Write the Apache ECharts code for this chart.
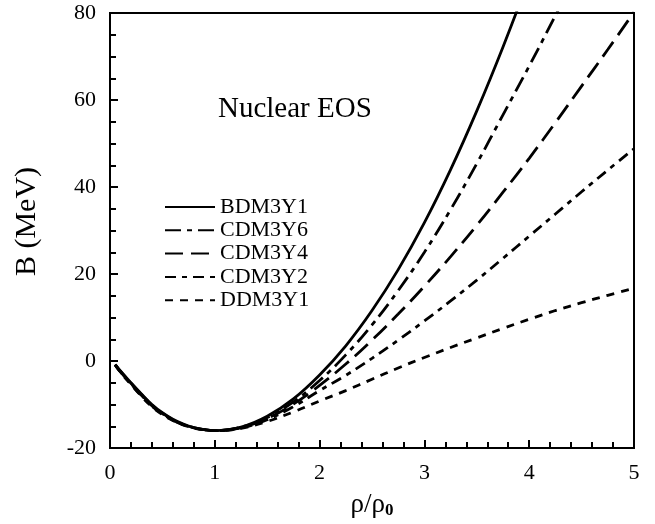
<!DOCTYPE html>
<html>
<head>
<meta charset="utf-8">
<script src="https://cdn.jsdelivr.net/npm/echarts@6/dist/echarts.min.js"></script>
<style>html,body{margin:0;padding:0;background:#fff}#c{width:655px;height:524px}</style>
</head>
<body>
<div id="c"></div>
<script>
const rho = [0.05,0.1,0.2,0.3,0.4,0.5,0.6,0.7,0.8,0.9,1.0,1.25,1.5,1.75,2.0,2.25,2.5,2.75,3.0,3.25,3.5,3.75,4.0,4.25,4.5,4.75,5.0];
const BDM3Y1 = [-0.8,-2.3,-5.0,-7.6,-10.0,-11.9,-13.4,-14.5,-15.3,-15.8,-16.0,-15.2,-12.7,-8.7,-3.2,3.5,11.6,21.0,31.8,44.0,57.5,72.2,88.0,null,null,null,null];
const CDM3Y6 = [-0.8,-2.4,-5.1,-7.7,-10.1,-12.0,-13.5,-14.6,-15.3,-15.8,-16.0,-15.2,-13.0,-9.4,-4.5,1.4,8.3,16.2,25.0,34.8,45.4,56.6,67.8,79.4,91.0,null,null];
const CDM3Y4 = [-0.9,-2.5,-5.2,-7.9,-10.3,-12.1,-13.6,-14.6,-15.4,-15.8,-16.0,-15.3,-13.2,-9.9,-5.6,-0.7,4.8,10.8,17.2,24.0,31.2,38.8,46.6,54.8,63.2,71.6,80.2];
const CDM3Y2 = [-0.9,-2.5,-5.3,-8.0,-10.4,-12.2,-13.6,-14.7,-15.4,-15.8,-16.0,-15.4,-13.5,-10.5,-6.8,-3.3,0.6,4.8,9.2,13.8,18.6,23.6,28.7,33.8,38.9,43.9,48.8];
const DDM3Y1 = [-0.9,-2.6,-5.4,-8.1,-10.5,-12.3,-13.7,-14.7,-15.4,-15.8,-16.0,-15.5,-13.9,-11.7,-9.2,-6.8,-4.2,-1.6,0.8,3.1,5.3,7.5,9.6,11.6,13.4,15.1,16.7];
const seriesNames = ['BDM3Y1','CDM3Y6','CDM3Y4','CDM3Y2','DDM3Y1'];
const seriesValues = [BDM3Y1, CDM3Y6, CDM3Y4, CDM3Y2, DDM3Y1];
const dashes = ['solid', [16,6,5,6], [18,8], [11,6,5,6], [8,7]];
const xTicks = [0,1,2,3,4,5];
const yTicks = [-20,0,20,40,60,80];

const F = '"Liberation Serif","Times New Roman",serif';
const chart = echarts.init(document.getElementById('c'));
chart.setOption({
  animation: false,
  backgroundColor: '#fff',
  grid: {left: 110, right: 21, top: 13, bottom: 72, show: true, borderColor: '#000', borderWidth: 2},
  title: {text: 'Nuclear EOS', left: 213, top: 90, textStyle: {fontFamily: F, fontSize: 29, fontWeight: 'normal', color: '#000'}},
  legend: {
    orient: 'vertical', left: 164, top: 196, padding: 0, itemWidth: 50, itemHeight: 14, itemGap: 1.3,
    itemStyle: {opacity: 0},
    textStyle: {fontFamily: F, fontSize: 22, lineHeight: 22, color: '#000'},
    data: seriesNames
  },
  xAxis: {
    type: 'value', min: xTicks[0], max: xTicks[xTicks.length-1], interval: 1,
    name: 'ρ/ρ{s|0}', nameLocation: 'middle', nameGap: 42,
    nameTextStyle: {fontFamily: F, fontSize: 27, color: '#000',
      rich: {s: {fontFamily: F, fontSize: 17, fontWeight: 'bold', color: '#000', verticalAlign: 'bottom', padding: [12,0,0,0]}}},
    axisLine: {show: true, onZero: false, lineStyle: {color: '#000', width: 2}},
    axisTick: {show: true, inside: true, length: 8, lineStyle: {color: '#000', width: 2}},
    minorTick: {show: true, splitNumber: 5, length: 6, lineStyle: {color: '#000', width: 2}},
    axisLabel: {fontFamily: F, fontSize: 22, color: '#000', margin: 14},
    splitLine: {show: false}
  },
  yAxis: {
    type: 'value', min: yTicks[0], max: yTicks[yTicks.length-1], interval: 20,
    name: 'B (MeV)', nameLocation: 'middle', nameGap: 68,
    nameTextStyle: {fontFamily: F, fontSize: 30, color: '#000', padding: [0,0,0,18]},
    axisLine: {show: true, onZero: false, lineStyle: {color: '#000', width: 2}},
    axisTick: {show: true, inside: true, length: 8, lineStyle: {color: '#000', width: 2}},
    minorTick: {show: true, splitNumber: 4, length: 6, lineStyle: {color: '#000', width: 2}},
    axisLabel: {fontFamily: F, fontSize: 22, color: '#000', margin: 14},
    splitLine: {show: false}
  },
  series: seriesNames.map((n, i) => ({
    name: n, type: 'line', symbol: 'none', smooth: 0.4, clip: true,
    data: rho.map((r, j) => [r, seriesValues[i][j]]),
    lineStyle: {color: '#000', width: 2.8, type: dashes[i]},
    itemStyle: {color: '#000'}
  }))
});
</script>
</body>
</html>
